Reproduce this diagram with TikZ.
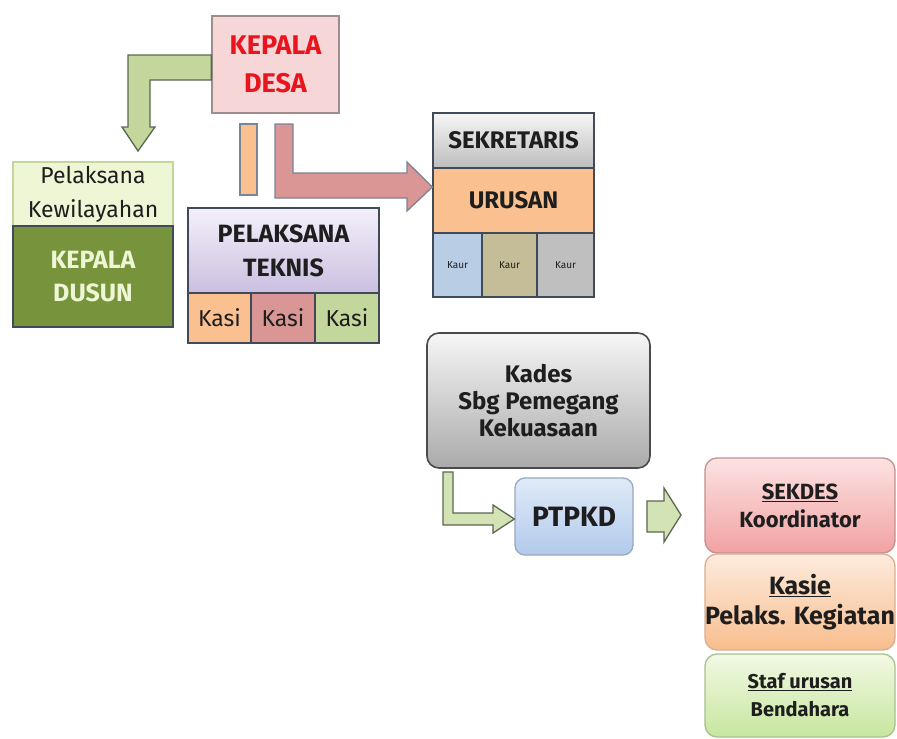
\documentclass[tikz,border=0pt]{standalone}
\usepackage{fontspec}
\setmainfont{Fira Sans}
\usetikzlibrary{calc}

\definecolor{kdfill}{HTML}{F6D6D6}
\definecolor{kdline}{HTML}{A08C8C}
\definecolor{kdtext}{HTML}{E8141E}
\definecolor{olive}{HTML}{77933C}
\definecolor{oliveline}{HTML}{3E4C5A}
\definecolor{palegreen}{HTML}{EEF6D6}
\definecolor{lightgreen}{HTML}{C3D69B}
\definecolor{softgreen}{HTML}{D4E3B5}
\definecolor{greenline}{HTML}{5A6850}
\definecolor{peach}{HTML}{FAC090}
\definecolor{rose}{HTML}{D99694}
\definecolor{slate}{HTML}{404A58}
\definecolor{steel}{HTML}{7A8596}
\definecolor{lavtop}{HTML}{F4F0FA}
\definecolor{lavbot}{HTML}{CBBFE0}
\definecolor{greytop}{HTML}{F6F6F6}
\definecolor{greybot}{HTML}{BDBDBD}
\definecolor{skyblue}{HTML}{B9CDE5}
\definecolor{khaki}{HTML}{C4BD97}
\definecolor{silver}{HTML}{BFBFBF}
\definecolor{bluetop}{HTML}{E0EAF8}
\definecolor{bluebot}{HTML}{B2CAEC}
\definecolor{blueline}{HTML}{98A8C0}
\definecolor{pinktop}{HTML}{FCE2E2}
\definecolor{pinkbot}{HTML}{F2A2A2}
\definecolor{pinkline}{HTML}{C49090}
\definecolor{orgtop}{HTML}{FDEBDD}
\definecolor{orgbot}{HTML}{F8BE8E}
\definecolor{orgline}{HTML}{D8B090}
\definecolor{grntop}{HTML}{F2F9E4}
\definecolor{grnbot}{HTML}{C6E69E}
\definecolor{grnline}{HTML}{A8C090}
\definecolor{inkdark}{HTML}{1E1E1E}

\tikzset{
  box/.style={draw=slate, line width=1.3pt, inner sep=0pt, align=center,
    text=inkdark},
  roundbox/.style={box, rounded corners=12pt},
  blockarrow/.style={line width=1.3pt, line join=miter},
  txt/.style 2 args={font=\fontsize{#1}{#2}\selectfont},
  btxt/.style 2 args={font=\fontsize{#1}{#2}\selectfont\bfseries},
}

\begin{document}
\begin{tikzpicture}[x=1pt, y=-1pt]
\useasboundingbox (0,0) rectangle (897,739);
\fill[white] (0,0) rectangle (897,739);

% ---------- Village head ----------
\node[box, draw=kdline, fill=kdfill, text=kdtext, btxt={27}{38},
      minimum width=127pt, minimum height=97pt] (kd) at (275.5,64.5)
      {KEPALA\\DESA};

% ---------- Territorial executor ----------
\node[box, draw=lightgreen, fill=palegreen, txt={23}{34},
      minimum width=160pt, minimum height=65pt] (pk) at (93,194.5)
      {Pelaksana\\Kewilayahan};
\node[box, draw=oliveline, fill=olive, text=palegreen, btxt={25}{33},
      minimum width=160pt, minimum height=101pt] (kdus) at (93,276.5)
      {KEPALA\\DUSUN};

% ---------- Technical executor ----------
\node[box, top color=lavtop, bottom color=lavbot, btxt={25}{34},
      minimum width=191pt, minimum height=85pt] (pt) at (283.5,250.5)
      {PELAKSANA\\TEKNIS};
\node[box, fill=peach, txt={23}{28}, minimum width=63pt, minimum height=50pt]
      (ks1) at (219.5,318) {Kasi};
\node[box, fill=rose, txt={23}{28}, minimum width=64pt, minimum height=50pt]
      (ks2) at (283,318) {Kasi};
\node[box, fill=lightgreen, txt={23}{28}, minimum width=64pt, minimum height=50pt]
      (ks3) at (347,318) {Kasi};

% ---------- Secretariat ----------
\node[box, top color=greytop, bottom color=greybot, btxt={24}{28},
      minimum width=161pt, minimum height=55pt] (sek) at (513.5,140.5)
      {SEKRETARIS};
\node[box, fill=peach, btxt={24}{28},
      minimum width=161pt, minimum height=65pt] (uru) at (513.5,200.5)
      {URUSAN};
\node[box, fill=skyblue, txt={10}{12}, minimum width=49pt, minimum height=64pt]
      (kr1) at (457.5,265) {Kaur};
\node[box, fill=khaki, txt={10}{12}, minimum width=55pt, minimum height=64pt]
      (kr2) at (509.5,265) {Kaur};
\node[box, fill=silver, txt={10}{12}, minimum width=57pt, minimum height=64pt]
      (kr3) at (565.5,265) {Kaur};

% ---------- Financial management ----------
\node[roundbox, line width=1.6pt, draw=inkdark!80, top color=greytop,
      bottom color=greybot!90!black, btxt={24}{27}, minimum width=223pt,
      minimum height=135pt] (kades) at (538.5,400.5)
      {Kades\\Sbg Pemegang\\Kekuasaan};
\node[roundbox, rounded corners=10pt, draw=blueline, top color=bluetop,
      bottom color=bluebot, btxt={28}{30}, minimum width=118pt,
      minimum height=77pt] (ptpkd) at (574,516.5) {PTPKD};

\node[roundbox, draw=pinkline, top color=pinktop, bottom color=pinkbot,
      btxt={22}{28}, minimum width=190pt, minimum height=95pt] (sekdes)
      at (800,505.5) {\underline{SEKDES}\\Koordinator};
\node[roundbox, draw=orgline, top color=orgtop, bottom color=orgbot,
      btxt={25}{30}, minimum width=190pt, minimum height=96pt] (kasie)
      at (800,602) {\underline{Kasie}\\Pelaks. Kegiatan};
\node[roundbox, draw=grnline, top color=grntop, bottom color=grnbot,
      btxt={20}{28}, minimum width=190pt, minimum height=83pt] (staf)
      at (800,695.5) {\underline{Staf urusan}\\Bendahara};

% ---------- Block arrows ----------
% from the village head down to the hamlet head
\draw[blockarrow, draw=greenline, fill=lightgreen]
  ($(kd.west)+(0,-9.5)$) -- (128,55) -- (128,127) -- (122,127) -- (138,151)
  -- (155,127) -- (150,127) -- (150,80) -- ($(kd.west)+(0,15.5)$) -- cycle;
% bar towards the technical executor
\draw[blockarrow, draw=steel, fill=peach] (240,124) rectangle (257,195);
% elbow arrow towards the secretariat
\draw[blockarrow, draw=steel, fill=rose]
  (275,124) -- (293,124) -- (293,173) -- (407,173) -- (407,162)
  -- (sek.south west |- 0,187) -- (407,211) -- (407,198) -- (275,198) -- cycle;
% from Kades to PTPKD
\draw[blockarrow, draw=greenline, fill=softgreen]
  (443,472) -- (453,472) -- (453,513) -- (493,513) -- (493,505)
  -- (ptpkd.west |- 0,519) -- (493,533) -- (493,525) -- (443,525) -- cycle;
% from PTPKD to the executing team
\draw[blockarrow, draw=greenline, fill=softgreen]
  (647,501) -- (664,501) -- (664,488) -- (681,515) -- (664,542) -- (664,532)
  -- (647,532) -- cycle;
\end{tikzpicture}
\end{document}
